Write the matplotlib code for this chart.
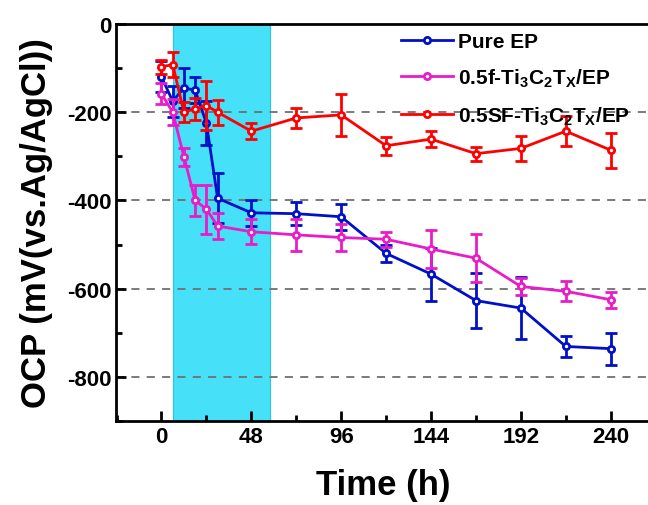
import numpy as np
import matplotlib
matplotlib.use("Agg")
import matplotlib.pyplot as plt
from matplotlib.ticker import MultipleLocator
from matplotlib.lines import Line2D

plt.rcParams['font.family'] = ['Liberation Sans', 'DejaVu Sans']
plt.rcParams['font.weight'] = 'bold'
plt.rcParams['axes.unicode_minus'] = False
plt.rcParams['mathtext.fontset'] = 'custom'
plt.rcParams['mathtext.rm'] = 'Liberation Sans:bold'
plt.rcParams['mathtext.it'] = 'Liberation Sans:bold'
plt.rcParams['mathtext.bf'] = 'Liberation Sans:bold'
plt.rcParams['mathtext.default'] = 'rm'

# data (time in h, OCP in mV)
time_h = [0, 6, 12, 18, 24, 30, 48, 72, 96, 120, 144, 168, 192, 216, 240]

pure_ep = [-120, -175, -145, -150, -225, -395, -428, -430, -437, -520, -567, -627, -644, -731, -736]
pure_ep_err = [35, 35, 45, 30, 50, 57, 30, 26, 29, 20, 60, 63, 71, 24, 36]

f_ti3c2 = [-158, -200, -301, -400, -420, -458, -471, -478, -484, -488, -510, -531, -595, -606, -625]
f_ti3c2_err = [24, 30, 20, 36, 55, 29, 28, 37, 31, 17, 44, 54, 20, 23, 18]

sf_ti3c2 = [-97, -92, -200, -192, -185, -200, -243, -213, -206, -276, -261, -294, -282, -243, -286]
sf_ti3c2_err = [16, 28, 23, 25, 55, 28, 18, 23, 47, 20, 18, 16, 28, 34, 40]

labels = ["Pure EP",
          "0.5f-Ti$_3$C$_2$T$_X$/EP",
          "0.5SF-Ti$_3$C$_2$T$_X$/EP"]
colors = ["#0010C8", "#E81CC8", "#FF0000"]

shade_span = (6, 58)
grid_levels = [-200, -400, -600, -800]

fig = plt.figure(figsize=(6.48, 5.06), dpi=100)
ax = fig.add_axes([116 / 648, 1 - 422 / 506, (650 - 116) / 648, (422 - 25) / 506])

ax.axvspan(*shade_span, color="#46E0F8", ec="#22C8E8", lw=0.8, zorder=0)
for lvl in grid_levels:
    ax.axhline(lvl, color="#707070", lw=1.3, ls=(0, (4.5, 4)), zorder=1)

series = [pure_ep, f_ti3c2, sf_ti3c2]
errs = [pure_ep_err, f_ti3c2_err, sf_ti3c2_err]
handles = []
for i, (y, e, c) in enumerate(zip(series, errs, colors)):
    ax.errorbar(time_h, y, yerr=e, color=c, lw=2, elinewidth=2, capsize=4.5, capthick=2,
                marker="o", ms=4.5, mfc="white", mec=c, mew=2, zorder=3 + i)
    handles.append(Line2D([], [], color=c, lw=2, marker="o", ms=4.5, mfc="white", mec=c, mew=2))

ax.set_xlim(-24.3, 261)
ax.set_ylim(-900, 0)
ax.xaxis.set_major_locator(MultipleLocator(48))
ax.xaxis.set_minor_locator(MultipleLocator(24))
ax.yaxis.set_major_locator(MultipleLocator(200))
ax.yaxis.set_minor_locator(MultipleLocator(100))
ax.tick_params(which="both", direction="in", width=2, labelsize=16)
ax.tick_params(which="major", length=7)
ax.tick_params(which="minor", length=4)
for sp in ax.spines.values():
    sp.set_linewidth(2)

ax.set_xlabel("Time (h)", fontsize=25, fontweight="bold", labelpad=15)
ax.set_ylabel("OCP (mV(vs.Ag/AgCl))", fontsize=25, fontweight="bold", labelpad=10)

ax.legend(handles, labels, loc="upper left", bbox_to_anchor=(0.533, 0.98), frameon=False,
          fontsize=15, handlelength=2.5, handletextpad=0.25, labelspacing=0.75,
          borderaxespad=0, borderpad=0)

fig.savefig("out.png", dpi=100)
